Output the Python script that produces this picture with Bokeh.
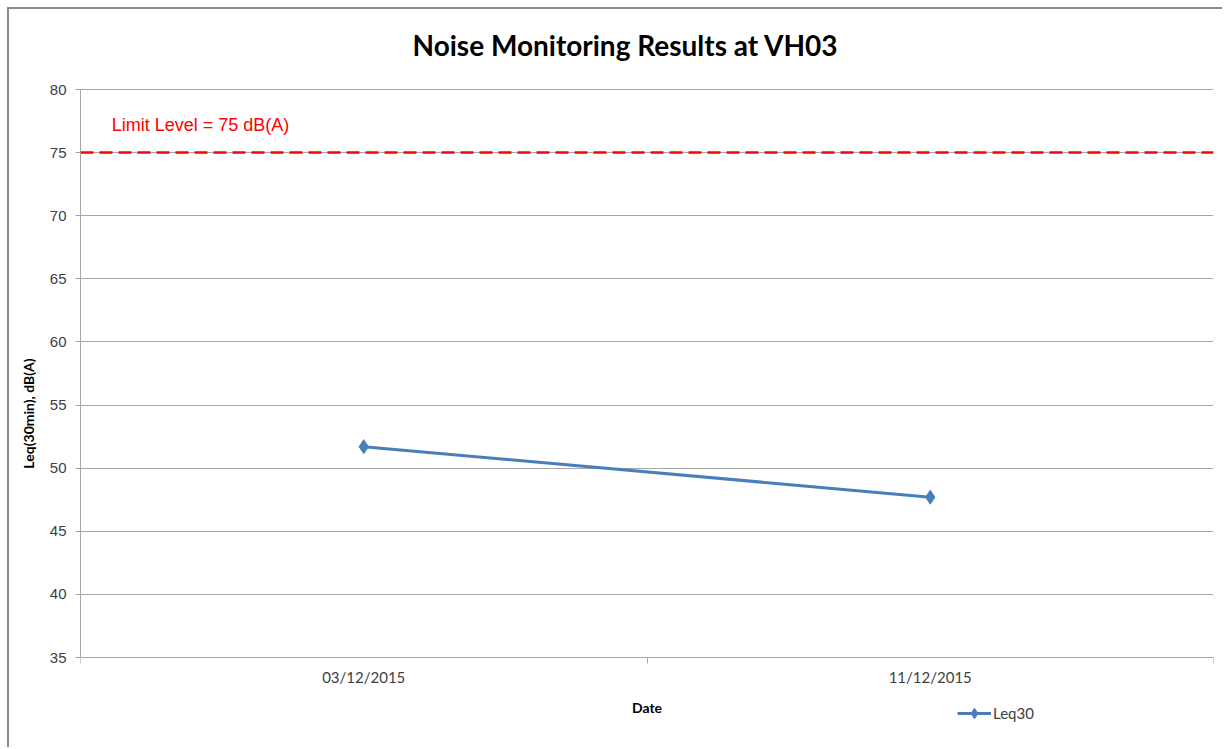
import numpy as np
from bokeh.plotting import figure
from bokeh.models import (Range1d, FixedTicker, Legend, LegendItem, Label, Title, Span,
                          LinearAxis)
from bokeh.embed import file_html
from bokeh.resources import INLINE

# ---- data ----
dates = ["03/12/2015", "11/12/2015"]
leq30 = [51.7, 47.7]
limit_level = 75
y_ticks = [35, 40, 45, 50, 55, 60, 65, 70, 75, 80]
title_text = "Noise Monitoring Results at VH03"
y_label = "Leq(30min), dB(A)"
x_label = "Date"
series_name = "Leq30"
limit_text = "Limit Level = 75 dB(A)"

# ---- layout (pixels) ----
frame_edge_px = 68       # canvas px of the frame's top edge
top_tick_px = 80         # canvas px where y=80 sits
axis_px = 648            # canvas px where y=35 sits (x axis line)
canvas_h = 740
y_min, y_max = y_ticks[0], y_ticks[-1]
px_per_unit = (axis_px - top_tick_px) / (y_max - y_min)
y_start = y_max - (canvas_h - top_tick_px) / px_per_unit    # frame runs to canvas bottom
y_end = y_max + (top_tick_px - frame_edge_px) / px_per_unit

xs = np.arange(len(dates)) + 0.5
bounds = list(np.arange(len(dates) + 1).astype(float))

p = figure(width=1215, height=canvas_h, output_backend="svg", toolbar_location=None,
           x_range=Range1d(0, len(dates)), y_range=Range1d(y_start, y_end),
           x_axis_location=None,
           min_border_left=71, min_border_right=11, min_border_top=frame_edge_px,
           min_border_bottom=0,
           styles={"border-left": "2px solid #8a8a8a", "border-top": "2px solid #8a8a8a",
                   "margin-left": "7px", "margin-top": "7px"})
p.outline_line_color = None
p.background_fill_color = "white"
p.border_fill_color = "white"

p.title = Title(text=title_text, align="left", text_font="Lato",
                text_font_size="28px", text_font_style="bold", text_color="black",
                offset=332, standoff=32)

# y axis
p.yaxis.bounds = (y_min, y_max)
p.yaxis.ticker = FixedTicker(ticks=y_ticks)
p.yaxis.axis_line_color = "#a6a6a6"
p.yaxis.major_tick_line_color = "#a6a6a6"
p.yaxis.major_tick_out = 5
p.yaxis.major_tick_in = 0
p.yaxis.minor_tick_line_color = None
p.yaxis.major_label_text_font = "Liberation Sans"
p.yaxis.major_label_text_font_size = "15px"
p.yaxis.major_label_text_color = "#404040"
p.yaxis.major_label_standoff = 9
p.yaxis.axis_label = y_label
p.yaxis.axis_label_text_font = "Lato"
p.yaxis.axis_label_text_font_size = "14px"
p.yaxis.axis_label_text_font_style = "bold"
p.yaxis.axis_label_text_color = "black"
p.yaxis.axis_label_text_align = "left"
p.yaxis.axis_label_standoff = 10

# x axis, pinned at y = 35
xaxis = LinearAxis(fixed_location=y_min,
                   ticker=FixedTicker(ticks=list(xs), minor_ticks=bounds),
                   major_label_overrides={float(x): d for x, d in zip(xs, dates)},
                   axis_line_color="#a6a6a6",
                   major_tick_line_color=None, major_tick_out=0, major_tick_in=0,
                   minor_tick_line_color="#a6a6a6", minor_tick_out=6, minor_tick_in=0,
                   major_label_text_font="Lato", major_label_text_font_size="15px",
                   major_label_text_color="#404040", major_label_standoff=4,
                   axis_label=x_label, axis_label_text_font="Lato",
                   axis_label_text_font_size="14px", axis_label_text_font_style="bold",
                   axis_label_text_color="black", axis_label_standoff=10)
p.add_layout(xaxis, "below")

p.xgrid.grid_line_color = None
p.ygrid.ticker = FixedTicker(ticks=y_ticks)
p.ygrid.grid_line_color = "#a6a6a6"
p.ygrid.grid_line_width = 1

# limit line
limit = Span(location=limit_level, dimension="width", line_color="#ff0000",
             line_width=2.5, line_dash="13 6")
p.add_layout(limit)
p.add_layout(Label(x=0.055, y=77.2, text=limit_text, text_color="#ff0000",
                   text_font="Liberation Sans", text_font_size="18px",
                   text_baseline="middle"))

# series
ln = p.line(xs, leq30, line_color="#4a7ebb", line_width=3)
mk = p.scatter(xs, leq30, marker="diamond", size=14, fill_color="#4a7ebb",
               line_color="#4a7ebb")

legend = Legend(items=[LegendItem(label=series_name, renderers=[ln, mk])],
                location=(877, 23), orientation="horizontal",
                background_fill_alpha=0, border_line_color=None,
                label_text_font="Lato",
                label_text_font_size="15px", label_text_color="#404040",
                glyph_width=34, glyph_height=26, label_standoff=2,
                label_height=14, padding=0, margin=0)
p.add_layout(legend, "center")

open("out.html", "w").write(file_html(p, INLINE))
